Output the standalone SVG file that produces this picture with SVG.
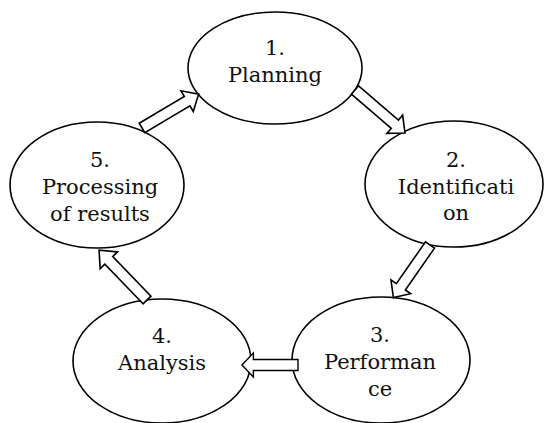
<svg xmlns="http://www.w3.org/2000/svg" width="544" height="423" viewBox="0 0 544 423">
  <style>
    .node ellipse { fill: #ffffff; stroke: #000000; stroke-width: 1.6; }
    .node text { font-family: "DejaVu Serif", "Liberation Serif", serif; font-size: 21px; fill: #111111; text-anchor: middle; }
    .conn use { fill: #ffffff; stroke: #000000; stroke-width: 1.6; stroke-linejoin: miter; }
  </style>
  <defs>
    <!-- block arrow pointing along +x, tail at origin, total length 64 -->
    <polygon id="blockArrow" points="0,-5.5 51,-5.5 51,-12 64,0 51,12 51,5.5 0,5.5"/>
  </defs>
  <rect width="544" height="423" fill="#ffffff"/>

  <g id="node-planning" class="node">
    <ellipse cx="275" cy="68" rx="87" ry="56"/>
    <text x="275" y="55">1.</text>
    <text x="275" y="82">Planning</text>
  </g>

  <g id="node-identification" class="node">
    <ellipse cx="454" cy="184" rx="89" ry="63"/>
    <text x="456" y="167">2.</text>
    <text x="456" y="194">Identificati</text>
    <text x="456" y="220">on</text>
  </g>

  <g id="node-performance" class="node">
    <ellipse cx="381" cy="360" rx="89" ry="63"/>
    <text x="380" y="342">3.</text>
    <text x="380" y="369">Performan</text>
    <text x="380" y="396">ce</text>
  </g>

  <g id="node-analysis" class="node">
    <ellipse cx="162" cy="361" rx="89" ry="62"/>
    <text x="162" y="343">4.</text>
    <text x="162" y="370">Analysis</text>
  </g>

  <g id="node-processing" class="node">
    <ellipse cx="97" cy="185" rx="87" ry="63"/>
    <text x="100" y="167">5.</text>
    <text x="100" y="194">Processing</text>
    <text x="100" y="221">of results</text>
  </g>

  <g id="connectors" class="conn">
    <!-- 5 -> 1 -->
    <use href="#blockArrow" transform="translate(142,128) rotate(-30.8) scale(1.03,1)"/>
    <!-- 1 -> 2 -->
    <use href="#blockArrow" transform="translate(355,90) rotate(40.7) scale(1.03,1)"/>
    <!-- 2 -> 3 -->
    <use href="#blockArrow" transform="translate(430,245) rotate(124.9)"/>
    <!-- 3 -> 4 -->
    <use href="#blockArrow" transform="translate(298,365) rotate(180) scale(0.875,1)"/>
    <!-- 4 -> 5 -->
    <use href="#blockArrow" transform="translate(147,300) rotate(-133.9) scale(1.08,1)"/>
  </g>
</svg>
